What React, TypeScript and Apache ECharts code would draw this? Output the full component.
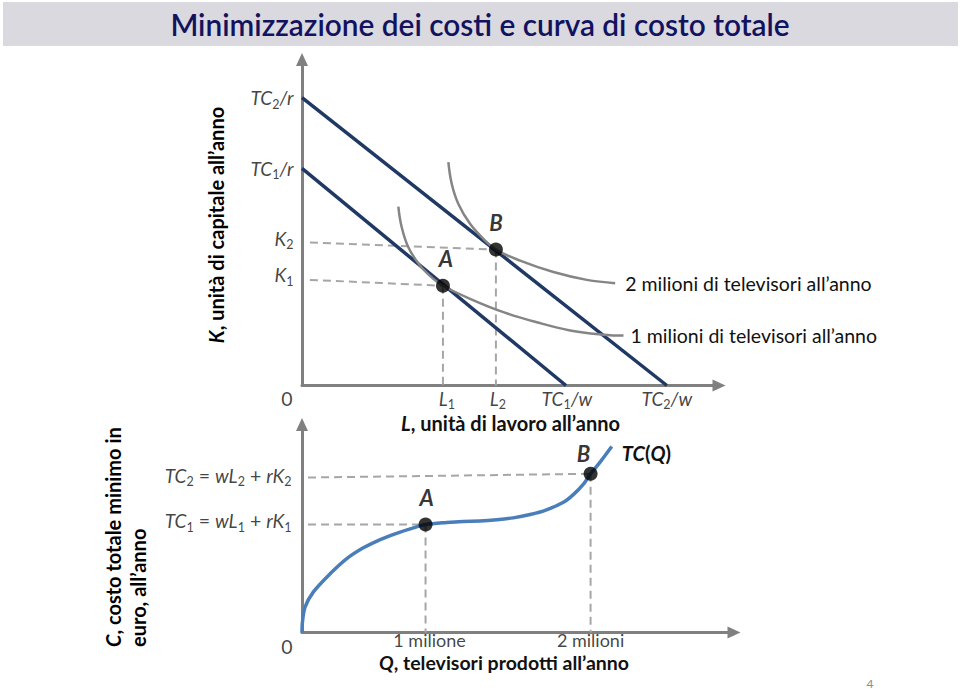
import React, { useEffect, useRef } from 'react';
import * as echarts from 'echarts';

const FONT = 'Lato, "Open Sans", "DejaVu Sans", sans-serif';

// ---------- upper panel: isocost lines and isoquants (abstract units 0..100) ----------
const isocost1 = [[0, 66.6], [63.3, 0]];
const isocost2 = [[0, 88.3], [87.5, 0]];
const isoquant1 = [[23.1, 54.9], [23.9, 48.6], [25.5, 42.4], [28.3, 36.8], [31.5, 32.7], [33.8, 30.6], [40.3, 26.6], [48.3, 22.5], [56.3, 19.4], [64.3, 16.9], [72.3, 15.6], [77.1, 15.3]];
const isoquant2 = [[35.1, 68.5], [35.9, 61.9], [37.5, 55.7], [40.3, 49.6], [43.5, 45.0], [46.5, 41.7], [52.3, 38.3], [60.3, 34.8], [68.3, 32.4], [75.1, 31.4]];
const isoquantLabels = ['1 milioni di televisori all’anno', '2 milioni di televisori all’anno'];
const tangencyPoints = [[33.8, 30.6], [46.5, 41.7]];
const pointNames = ['A', 'B'];
const kDashStart = [[1.9, 32.4], [1.9, 43.9]];
const upperYTickValues = [88.3, 66.6, 45.1, 34.0];
const upperYTickLabels = ['{i|TC}{s|2}{i|/r}', '{i|TC}{s|1}{i|/r}', '{i|K}{s|2}', '{i|K}{s|1}'];
const upperXTickValues = [33.8, 46.5, 63.3, 87.5];
const upperXTickLabels = ['{i|L}{s|1}', '{i|L}{s|2}', '{i|TC}{s|1}{i|/w}', '{i|TC}{s|2}{i|/w}'];

// ---------- lower panel: total cost curve ----------
const tcCurve = [[0, 0], [0.1, 5.0], [0.7, 12.2], [2.6, 19.4], [6.5, 28.2], [10.3, 35.4], [14.2, 40.7], [18.1, 44.7], [21.9, 47.7], [25.8, 50.3], [28.6, 51.9], [33.5, 52.9], [37.3, 53.4], [41.2, 53.6], [45.1, 54.2], [48.9, 55.1], [52.8, 56.7], [56.6, 59.0], [60.5, 62.6], [62.8, 66.3], [65.2, 71.5], [66.8, 76.3], [69.0, 81.9], [71.7, 89.4]];
const costPoints = [[28.6, 51.9], [66.8, 76.3]];
const tcDashStart = [[1.4, 51.9], [1.4, 74.5]];
const lowerYTickValues = [53.8, 75.5];
const lowerYTickLabels = [
  '{i|TC}{s|1}{n| = }{i|wL}{s|1}{n| + }{i|rK}{s|1}',
  '{i|TC}{s|2}{n| = }{i|wL}{s|2}{n| + }{i|rK}{s|2}',
];
const lowerXTickValues = [28.6, 66.8];
const lowerXTickLabels = ['1 milione', '2 milioni'];

const NAVY = '#1f3864';
const GREY = '#858585';
const DASH = '#a6a6a6';
const BLUE = '#4a7ebb';
const AXIS = '#808080';

const rich: any = {
  i: { fontFamily: FONT, fontSize: 19, fontStyle: 'italic', color: '#111', lineHeight: 26 },
  n: { fontFamily: FONT, fontSize: 19.5, color: '#111', lineHeight: 26 },
  t: { fontFamily: FONT, fontSize: 18, color: '#111', lineHeight: 16 },
  s: { fontFamily: FONT, fontSize: 12.5, color: '#111', lineHeight: 13, verticalAlign: 'bottom' },
  b: { fontFamily: FONT, fontSize: 20, fontWeight: 'bold', color: '#111', lineHeight: 18 },
  bi: { fontFamily: FONT, fontSize: 20, fontWeight: 'bold', fontStyle: 'italic', color: '#111', lineHeight: 18 },
  qb: { fontFamily: FONT, fontSize: 19.5, fontWeight: 'bold', color: '#111', lineHeight: 18 },
  qbi: { fontFamily: FONT, fontSize: 19.5, fontWeight: 'bold', fontStyle: 'italic', color: '#111', lineHeight: 18 },
};

function line(gi: number, data: number[][], color: string, width: number, type: any = 'solid', extra: any = {}) {
  return {
    type: 'line', xAxisIndex: gi, yAxisIndex: gi, data, symbol: 'none', silent: true,
    lineStyle: { color, width, type }, ...extra,
  };
}

function labels(gi: number, pts: number[][], texts: string[], position: string, distance: number, offsets?: number[][]) {
  return {
    type: 'scatter', xAxisIndex: gi, yAxisIndex: gi, symbolSize: 1, silent: true, z: 5,
    itemStyle: { color: 'rgba(0,0,0,0)' },
    data: pts.map((p, k) => ({
      value: p,
      label: {
        show: true, position, distance, rich,
        offset: offsets ? offsets[k] : [0, 0],
        formatter: () => texts[k],
      },
    })),
  };
}

function dots(gi: number, pts: number[][], offsets: number[][], distances: number[]) {
  return {
    type: 'scatter', xAxisIndex: gi, yAxisIndex: gi, symbolSize: 14, silent: true, z: 6,
    itemStyle: { color: '#000' },
    data: pts.map((p, k) => ({
      value: p,
      label: {
        show: true, position: 'top', distance: distances[k], offset: offsets[k],
        fontFamily: FONT, fontSize: 22, fontWeight: 'bold', fontStyle: 'italic', color: '#000',
        formatter: () => pointNames[k],
      },
    })),
  };
}

const axisLine = {
  show: true, symbol: ['none', 'triangle'], symbolSize: [12, 13],
  lineStyle: { color: AXIS, width: 3 },
};

function axis(gi: number, extra: any = {}) {
  return {
    type: 'value', gridIndex: gi, min: 0, max: 100,
    axisLine, axisTick: { show: false }, axisLabel: { show: false }, splitLine: { show: false },
    ...extra,
  };
}

export default function App() {
  const ref = useRef<HTMLDivElement>(null);
  useEffect(() => {
    document.body.style.margin = '0';
    const chart = echarts.init(ref.current!, null, { renderer: 'svg' });
    const A = tangencyPoints[0];
    const B = tangencyPoints[1];
    const cA = costPoints[0];
    const cB = costPoints[1];
    chart.setOption({
      animation: false,
      backgroundColor: '#ffffff',
      grid: [
        { left: 302, top: 59.5, width: 417, height: 326 },
        { left: 302, top: 424.5, width: 432, height: 208 },
      ],
      xAxis: [
        axis(0, {
          name: '{bi|L}{b|, unità di lavoro all’anno}', nameLocation: 'middle', nameGap: 28,
          nameTextStyle: { rich },
        }),
        axis(1, {
          name: '{qbi|Q}{qb|, televisori prodotti all’anno}', nameLocation: 'middle', nameGap: 21,
          nameTextStyle: { rich, padding: [0, 28, 0, 0] },
        }),
      ],
      yAxis: [axis(0), axis(1)],
      graphic: [
        { type: 'rect', shape: { x: 3, y: 2, width: 955, height: 44 }, style: { fill: '#d9d9df' }, silent: true },
        {
          type: 'text', x: 480, y: 24, silent: true,
          style: { text: 'Minimizzazione dei costi e curva di costo totale', fill: '#12125e', font: `600 29.8px ${FONT}`, textAlign: 'center', textVerticalAlign: 'middle' },
        },
        {
          type: 'text', x: 216, y: 225, rotation: Math.PI / 2, silent: true,
          style: {
            text: '{bi|K}{b|, unità di capitale all’anno}', rich, textAlign: 'center', textVerticalAlign: 'middle',
          },
        },
        {
          type: 'text', x: 113, y: 647, rotation: Math.PI / 2, silent: true,
          style: { text: '{bi|C}{b|, costo totale minimo in}', rich, textAlign: 'left', textVerticalAlign: 'middle' },
        },
        {
          type: 'text', x: 138, y: 647, rotation: Math.PI / 2, silent: true,
          style: { text: '{b|euro, all’anno}', rich, textAlign: 'left', textVerticalAlign: 'middle' },
        },
        {
          type: 'text', x: 870, y: 683, silent: true,
          style: { text: '4', fill: '#8c8c8c', font: `12px ${FONT}`, textAlign: 'center', textVerticalAlign: 'middle' },
        },
      ],
      series: [
        // upper panel
        line(0, [kDashStart[0], A], DASH, 2, [8, 5]),
        line(0, [kDashStart[1], B], DASH, 2, [8, 5]),
        line(0, [A, [A[0], 0]], DASH, 2, [8, 5]),
        line(0, [B, [B[0], 0]], DASH, 2, [8, 5]),
        line(0, isocost1, NAVY, 3.5),
        line(0, isocost2, NAVY, 3.5),
        line(0, isoquant1, GREY, 2.5, 'solid', {
          smooth: 0.4, z: 3,
          endLabel: { show: true, distance: 7, fontFamily: FONT, fontSize: 19.5, color: '#111', formatter: () => isoquantLabels[0] },
        }),
        line(0, isoquant2, GREY, 2.5, 'solid', {
          smooth: 0.4, z: 3,
          endLabel: { show: true, distance: 10, fontFamily: FONT, fontSize: 19.5, color: '#111', formatter: () => isoquantLabels[1] },
        }),
        dots(0, tangencyPoints, [[3, 0], [0, 0]], [9, 9]),
        labels(0, upperYTickValues.map((v) => [0, v]), upperYTickLabels, 'left', 8),
        labels(0, upperXTickValues.map((v) => [v, 0]), upperXTickLabels, 'bottom', -1, [[4, 0], [2, 0], [1, 0], [0, 0]]),
        labels(0, [[0, 0]], ['{n|0}'], 'bottom', -1, [[-15, 0]]),
        // lower panel
        line(1, [tcDashStart[0], cA], DASH, 2, [8, 5]),
        line(1, [tcDashStart[1], cB], DASH, 2, [8, 5]),
        line(1, [cA, [cA[0], 0]], DASH, 2, [8, 5]),
        line(1, [cB, [cB[0], 0]], DASH, 2, [8, 5]),
        line(1, tcCurve, BLUE, 3.5, 'solid', {
          smooth: 0.3, z: 3,
          endLabel: {
            show: true, distance: 10, offset: [0, 6], rich,
            formatter: () => '{bi|TC}{b|(}{bi|Q}{b|)}',
          },
        }),
        dots(1, costPoints, [[1, 0], [-7, 0]], [9, 2]),
        labels(1, lowerYTickValues.map((v) => [0, v]), lowerYTickLabels, 'left', 10),
        labels(1, lowerXTickValues.map((v) => [v, 0]), lowerXTickLabels.map((t) => `{t|${t}}`), 'bottom', -1.5, [[4, 0], [0, 0]]),
        labels(1, [[0, 0]], ['{n|0}'], 'bottom', 0, [[-15, 0]]),
      ],
    });
    return () => chart.dispose();
  }, []);
  return <div ref={ref} style={{ position: 'absolute', left: 0, top: 0, width: 960, height: 689, background: '#fff' }} />;
}
